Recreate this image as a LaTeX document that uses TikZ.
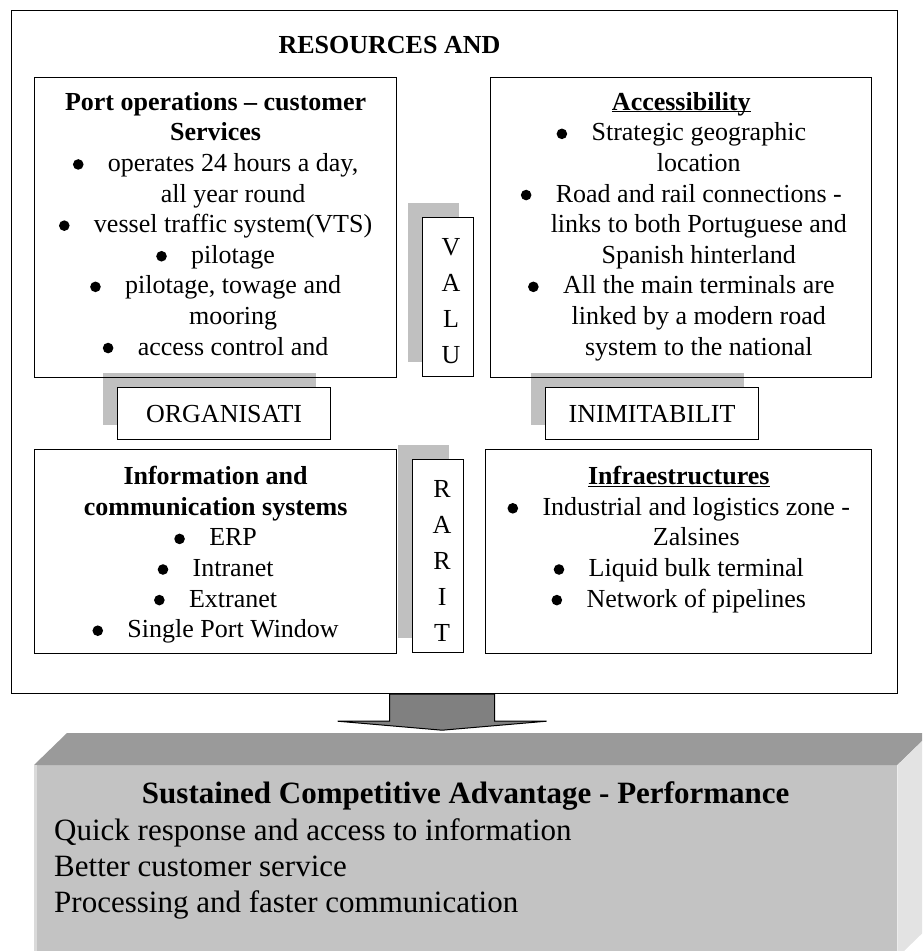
\documentclass[tikz,border=0pt]{standalone}
\usepackage{fontspec}
\setmainfont{Liberation Serif}
\usepackage{tikz}
\usetikzlibrary{positioning,calc,shadows}
\definecolor{shadegray}{RGB}{192,192,192}
\definecolor{arrowgray}{RGB}{128,128,128}
\definecolor{lidgray}{RGB}{154,154,154}
\definecolor{facegray}{RGB}{195,195,195}
\definecolor{sidegray}{RGB}{227,227,227}
\newcommand{\bul}{\makebox[35pt][l]{\tikz[baseline=0pt]\fill (5.5pt,7pt) circle (5.3pt);}}
\newcommand{\cont}{\hspace*{35pt}}
\newcommand{\headul}[1]{\underline{\raisebox{0pt}[\height][0pt]{#1}}}

\begin{document}
\begin{tikzpicture}[
        x=1pt, y=1pt,
        frame/.style={rectangle, draw, line width=1.2pt, inner sep=0pt},
        panel/.style={rectangle, draw, line width=1.2pt, inner sep=0pt},
        paneltext/.style={align=center, inner sep=0pt, font=\fontsize{26pt}{30.6pt}\selectfont},
        tag/.style={rectangle, draw, fill=white, line width=1.2pt, inner sep=0pt,
            font=\fontsize{26pt}{30pt}\selectfont,
            drop shadow={opacity=1, fill=shadegray, shadow xshift=-15pt, shadow yshift=15pt}},
        tagletters/.style={align=center, inner sep=0pt, font=\fontsize{26pt}{36pt}\selectfont},
        heading/.style={inner sep=0pt, font=\fontsize{26pt}{30pt}\selectfont\bfseries},
        downarrow/.style={fill=arrowgray, draw, line width=1pt, line join=miter},
        perfbox/.style={rectangle, fill=facegray, inner sep=0pt},
        perfhead/.style={inner sep=0pt, font=\fontsize{31pt}{36pt}\selectfont\bfseries},
        perftext/.style={inner sep=0pt, align=left, font=\fontsize{31pt}{36pt}\selectfont},
    ]
    \useasboundingbox (0,0) rectangle (922,-951);
    \clip (0,0) rectangle (922,-951);

    \node[frame, minimum width=886pt, minimum height=683pt, anchor=north west] (outer) at (11,-10) {};
    \node[heading, anchor=base] (restitle) at (389.5,-53) {RESOURCES AND};

    \node[tag, minimum width=51pt, minimum height=159pt, anchor=north west] (valu) at (422,-217) {};
    \node[tagletters, anchor=north] (valutext) at ($(valu.north)+(3,-21)$) {V\\A\\L\\U};
    \node[tag, minimum width=51pt, minimum height=193pt, anchor=north west] (rarit) at (412,-459) {};
    \node[tagletters, anchor=north] (rarittext) at ($(rarit.north)+(4,-21)$) {R\\A\\R\\I\\T};
    \node[tag, minimum width=213pt, minimum height=52pt, anchor=north west] (organ) at (117,-387) {ORGANISATI};
    \node[tag, minimum width=213pt, minimum height=52pt, anchor=north west] (inimit) at (545,-387) {INIMITABILIT};

    \node[panel, minimum width=362pt, minimum height=300pt, anchor=north west] (ops) at (34,-77) {};
    \node[panel, minimum width=381pt, minimum height=300pt, right=93pt of ops] (access) {};
    \node[panel, minimum width=362pt, minimum height=204pt, below=71pt of ops] (ict) {};
    \node[panel, minimum width=386pt, minimum height=204pt, anchor=north east] (infra) at ($(access.south east)+(0,-71)$) {};

    \node[paneltext, anchor=north] (opstext) at ($(ops.north)+(0,-15)$) {\textbf{Port operations – customer}\\
        \textbf{Services}\\
        \bul operates 24 hours a day,\\
        \cont all year round\\
        \bul vessel traffic system(VTS)\\
        \bul pilotage\\
        \bul pilotage, towage and\\
        \cont mooring\\
        \bul access control and};
    \node[paneltext, anchor=north] (accesstext) at ($(access.north)+(0,-15)$) {\textbf{\headul{Accessibility}}\\
        \bul Strategic geographic\\
        \cont location\\
        \bul Road and rail connections -\\
        \cont links to both Portuguese and\\
        \cont Spanish hinterland\\
        \bul All the main terminals are\\
        \cont linked by a modern road\\
        \cont system to the national};
    \node[paneltext, anchor=north] (icttext) at ($(ict.north)+(0,-17)$) {\textbf{Information and}\\
        \textbf{communication systems}\\
        \bul ERP\\
        \bul Intranet\\
        \bul Extranet\\
        \bul Single Port Window};
    \node[paneltext, anchor=north] (infratext) at ($(infra.north)+(0,-17)$) {\textbf{\headul{Infraestructures}}\\
        \bul Industrial and logistics zone -\\
        \cont Zalsines\\
        \bul Liquid bulk terminal\\
        \bul Network of pipelines};

    \node[perfbox, minimum width=863pt, minimum height=192pt, anchor=north west] (perf) at (34,-765) {};
    \fill[lidgray] (perf.north west) -- ++(33,32) -- ($(perf.north east)+(33,32)$) -- (perf.north east) -- cycle;
    \fill[sidegray] (perf.north east) -- ++(33,32) -- ($(perf.south east)+(33,32)$) -- (perf.south east) -- cycle;
    \fill[sidegray!70!facegray] (perf.north west) rectangle ($(perf.south west)+(2.5,0)$);
    \node[perfhead, anchor=base] (perftitle) at ($(perf.north)+(0,-38)$) {Sustained Competitive Advantage - Performance};
    \node[perftext, anchor=north west] (perflist) at ($(perf.north west)+(20,-53)$) {Quick response and access to information\\
        Better customer service\\
        Processing and faster communication};

    \coordinate (arrowtop) at ($(outer.south)+(-12.5,0)$);
    \draw[downarrow] (arrowtop) ++(-52.5,0) -- ++(0,-27) -- ++(-52,0) -- ++(104.5,-9)
        -- ++(104.5,9) -- ++(-52,0) -- ++(0,27) -- cycle;
\end{tikzpicture}
\end{document}
